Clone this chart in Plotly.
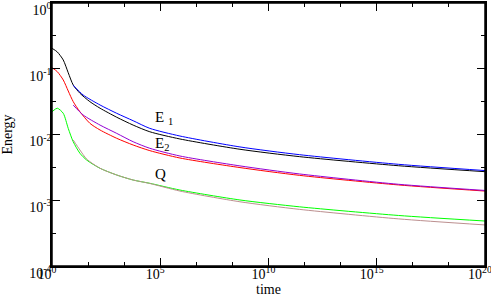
import plotly.graph_objects as go

# ---- data ----
t_black = [1, 1.76, 3.31, 5.62, 9.55, 19.5, 56.2, 166, 977, 5.6e3, 3.3e4, 8.1e5, 4.8e8, 2.75e11, 1e16, 1e20]
e_black = [0.205, 0.180, 0.136, 0.087, 0.0566, 0.0424, 0.0316, 0.0251, 0.0183, 0.0139, 0.0110, 0.00855, 0.00596, 0.00460, 0.00335, 0.00272]

t_blue = [9.55, 27.5, 166, 977, 5.6e3, 3.3e4, 8.1e5, 4.8e8, 2.75e11, 1e16, 1e20]
e_blue = [0.0560, 0.0399, 0.0281, 0.0210, 0.0162, 0.0124, 0.00948, 0.00647, 0.00493, 0.00352, 0.00283]

t_red = [1, 1.76, 3.31, 5.62, 9.55, 19.5, 56.2, 166, 977, 5.6e3, 3.3e4, 8.1e5, 4.8e8, 2.75e11, 1e16, 1e20]
e_red = [0.104, 0.0902, 0.0675, 0.0459, 0.0316, 0.0222, 0.0148, 0.0117, 0.00875, 0.00692, 0.00568, 0.00439, 0.00314, 0.00239, 0.00171, 0.00138]

t_violet = [9.55, 27.5, 166, 977, 5.6e3, 3.3e4, 8.1e5, 4.8e8, 2.75e11, 1e16, 1e20]
e_violet = [0.028, 0.0198, 0.0139, 0.0104, 0.00776, 0.00617, 0.00471, 0.00333, 0.00251, 0.00175, 0.00141]

t_green = [1, 1.76, 3.31, 5.62, 9.55, 19.5, 39.8, 166, 977, 5.6e3, 3.3e4, 8.1e5, 4.8e8, 2.75e11, 1e16, 1e20]
e_green = [0.0222, 0.0251, 0.0210, 0.0124, 0.00776, 0.00518, 0.00409, 0.00306, 0.00242, 0.00203, 0.00181, 0.00143, 0.00101, 0.000794, 0.000587, 0.000483]

t_brown = [9.55, 19.5, 39.8, 166, 977, 5.6e3, 3.3e4, 8.1e5, 4.8e8, 2.75e11, 1e16, 1e20]
e_brown = [0.00824, 0.00581, 0.00424, 0.00306, 0.00242, 0.00203, 0.00180, 0.00138, 0.000948, 0.000726, 0.000521, 0.000421]

x_major = [1, 1e5, 1e10, 1e15, 1e20]
x_major_text = ["10<sup>0</sup>", "10<sup>5</sup>", "10<sup>10</sup>", "10<sup>15</sup>", "10<sup>20</sup>"]
y_major = [1e-4, 1e-3, 1e-2, 1e-1, 1]
y_major_text = ["10<sup>-4</sup>", "10<sup>-3</sup>", "10<sup>-2</sup>", "10<sup>-1</sup>", "10<sup>0</sup>"]

labels = ["E <sub>1</sub>", "E<sub>2</sub>", "Q"]
label_t_exp = [5.15, 5.1, 5.0]
label_e_exp = [-1.75, -2.15, -2.6]

FONT = "Liberation Serif"

series = [
    (t_black, e_black, "#000000"),
    (t_blue, e_blue, "#0000ff"),
    (t_red, e_red, "#ff0000"),
    (t_violet, e_violet, "#9400d3"),
    (t_green, e_green, "#00ff00"),
    (t_brown, e_brown, "#bc8f8f"),
]

fig = go.Figure()
for t, e, c in series:
    fig.add_trace(go.Scatter(x=t, y=e, mode="lines",
                             line=dict(color=c, width=1, shape="spline", smoothing=0.7),
                             showlegend=False, hoverinfo="skip"))

x_minor = []
for a in range(4):
    for k in (1, 2):
        x_minor.append(10 ** (5 * a + 5 * k / 3))
y_minor = [10 ** (-0.5 - i) for i in range(4)]

for txt, tx, ey in zip(labels, label_t_exp, label_e_exp):
    fig.add_annotation(x=tx, y=ey, xref="x", yref="y", text=txt, showarrow=False,
                       font=dict(family=FONT, size=15, color="black"))

# plot frame
fig.add_shape(type="rect", xref="paper", yref="paper", x0=0, x1=1, y0=0, y1=1,
              line=dict(color="black", width=1.5), layer="above")

axis_common = dict(
    showgrid=False, zeroline=False, showline=True, linecolor="black", linewidth=1.5,
    mirror="allticks", ticks="inside", ticklen=8, tickwidth=1, tickcolor="black",
    tickfont=dict(family=FONT, size=14, color="black"), automargin=False,
    ticklabeloverflow="allow",
)

fig.update_xaxes(type="log", range=[0, 20], tickmode="array", tickvals=x_major,
                 ticktext=x_major_text, ticklabelstandoff=-6, ticklabelshift=-5,
                 minor=dict(tickmode="array", tickvals=x_minor, ticks="inside", ticklen=4,
                            tickcolor="black", tickwidth=1, showgrid=False),
                 title=dict(text="time", font=dict(family=FONT, size=14, color="black"), standoff=0),
                 **axis_common)
fig.update_yaxes(type="log", range=[-4, 0], tickmode="array", tickvals=y_major,
                 ticktext=y_major_text, ticklabelstandoff=-4, ticklabelshift=7,
                 minor=dict(tickmode="array", tickvals=y_minor, ticks="inside", ticklen=4,
                            tickcolor="black", tickwidth=1, showgrid=False),
                 title=dict(text="Energy", font=dict(family=FONT, size=14, color="black")),
                 **axis_common)

fig.update_layout(width=491, height=300, margin=dict(l=52, r=6, t=3, b=34),
                  plot_bgcolor="white", paper_bgcolor="white",
                  font=dict(family=FONT, color="black"))

fig.write_html("out.html", config={"displayModeBar": False},
               post_script="document.body.style.margin='0px';")
